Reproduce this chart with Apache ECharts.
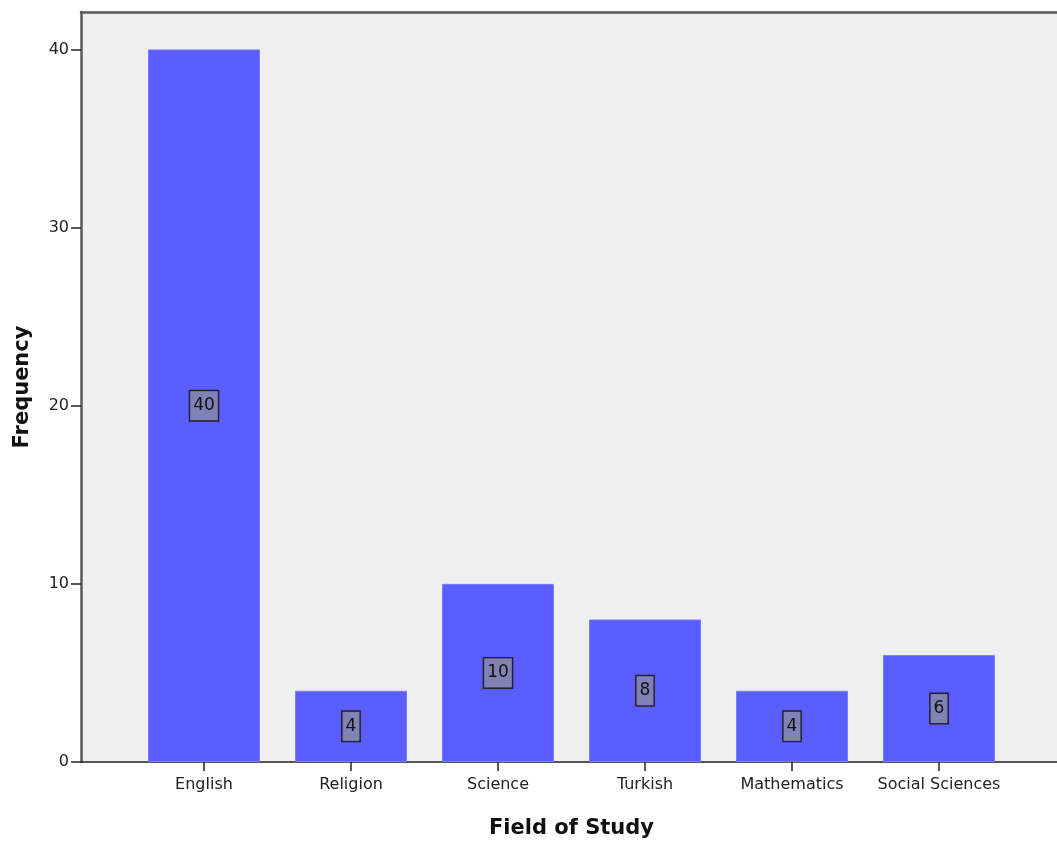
<!DOCTYPE html>
<html>
<head>
<meta charset="utf-8">
<script src="https://cdn.jsdelivr.net/npm/echarts@6/dist/echarts.min.js"></script>
<style>
  html, body { margin: 0; padding: 0; background: #ffffff; }
  #chart { width: 1057px; height: 841px; }
</style>
</head>
<body>
<div id="chart"></div>
<script>
// Field of Study frequencies
const categories = ['English', 'Religion', 'Science', 'Turkish', 'Mathematics', 'Social Sciences'];
const frequencies = [40, 4, 10, 8, 4, 6];
const yTicks = [0, 10, 20, 30, 40];

const FONT = '"DejaVu Sans", sans-serif';
const Y_MAX = 42.1;

const chart = echarts.init(document.getElementById('chart'), null, { renderer: 'canvas' });

chart.setOption({
  animation: false,
  backgroundColor: '#ffffff',
  grid: [
    // frame: background panel, left/top border, y axis, baseline
    { left: 81, right: -5, top: 12, bottom: 79, show: true, outerBoundsMode: 'none',
      containLabel: false, backgroundColor: '#efefef', borderWidth: 0 },
    // bars: category bands
    { left: 130.5, width: 882, top: 12, bottom: 79, outerBoundsMode: 'none',
      containLabel: false }
  ],
  xAxis: [
    { gridIndex: 0, type: 'value', min: 0, max: 1,
      axisLine: { show: true, onZero: false, lineStyle: { color: '#222222', width: 1.5 } },
      axisTick: { show: false }, axisLabel: { show: false }, splitLine: { show: false } },
    { gridIndex: 0, type: 'value', min: 0, max: 1, position: 'top',
      axisLine: { show: true, onZero: false, lineStyle: { color: '#5a5a5a', width: 2.5 } },
      axisTick: { show: false }, axisLabel: { show: false }, splitLine: { show: false } },
    { gridIndex: 1, type: 'category', data: categories,
      name: 'Field of Study', nameLocation: 'middle', nameGap: 56,
      nameTextStyle: { fontFamily: FONT, fontSize: 21, fontWeight: 'bold', color: '#111111' },
      axisLine: { show: false },
      axisTick: { show: true, alignWithLabel: true, interval: 0, length: 9,
        lineStyle: { color: '#222222', width: 1.5 } },
      axisLabel: { fontFamily: FONT, fontSize: 16, color: '#222222', margin: 15, interval: 0 },
      splitLine: { show: false } }
  ],
  yAxis: [
    { gridIndex: 0, type: 'value', min: 0, max: Y_MAX,
      name: 'Frequency', nameLocation: 'middle', nameGap: 48,
      nameTextStyle: { fontFamily: FONT, fontSize: 21, fontWeight: 'bold', color: '#111111' },
      axisLine: { show: true, lineStyle: { color: '#5a5a5a', width: 2.5 } },
      axisTick: { show: true, length: 10, customValues: yTicks,
        lineStyle: { color: '#222222', width: 1.5 } },
      axisLabel: { fontFamily: FONT, fontSize: 16, color: '#222222', margin: 12,
        customValues: yTicks },
      splitLine: { show: false } },
    { gridIndex: 1, type: 'value', min: 0, max: Y_MAX, show: false }
  ],
  series: [{
    type: 'bar',
    xAxisIndex: 2,
    yAxisIndex: 1,
    data: frequencies,
    barWidth: 112,
    itemStyle: { color: '#5b5eff', borderColor: '#7b7dff', borderWidth: 1 },
    label: {
      show: true,
      position: 'inside',
      fontFamily: FONT,
      fontSize: 17,
      lineHeight: 19,
      color: '#111111',
      backgroundColor: '#8081b4',
      borderColor: '#222233',
      borderWidth: 1.5,
      padding: [5, 3]
    }
  }]
});
</script>
</body>
</html>
